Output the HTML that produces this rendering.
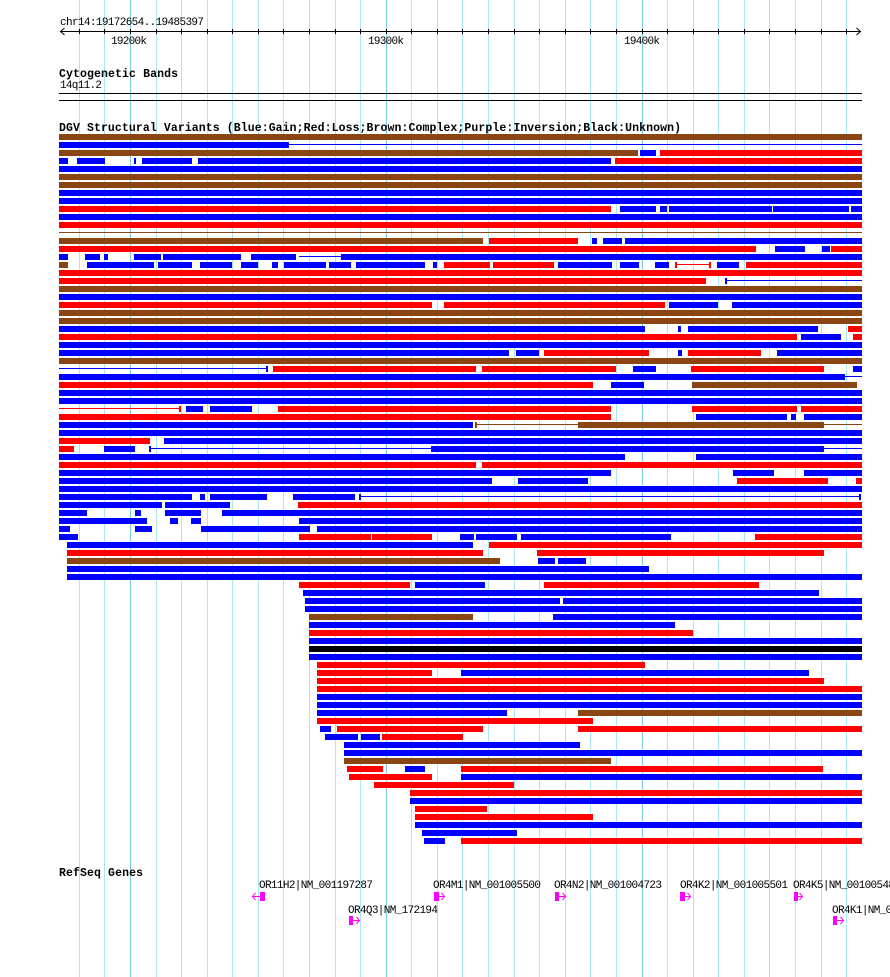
<!DOCTYPE html>
<html><head><meta charset="utf-8"><style>
html,body{margin:0;padding:0;background:#fff;width:890px;height:977px;overflow:hidden}
svg{display:block}
.b{fill:#0000ff}.r{fill:#ff0000}.n{fill:#8b4513}.k{fill:#000}.m{fill:#ff00ff}
.g{fill:#aae6ef}.G{fill:#7ccbe8}
text{font-family:"Liberation Mono","DejaVu Sans Mono",monospace;font-size:11px;fill:#000}
.t{font-weight:bold;font-size:11.5px}
</style></head><body>
<svg width="890" height="977" viewBox="0 0 890 977" shape-rendering="crispEdges">
<rect x="0" y="0" width="890" height="977" fill="#fff"/>
<g>
<rect class="g" x="79" y="0" width="1" height="977"/>
<rect class="g" x="104" y="0" width="1" height="977"/>
<rect class="G" x="130" y="0" width="1" height="977"/>
<rect class="g" x="156" y="0" width="1" height="977"/>
<rect class="g" x="181" y="0" width="1" height="977"/>
<rect class="g" x="207" y="0" width="1" height="977"/>
<rect class="g" x="232" y="0" width="1" height="977"/>
<rect class="g" x="258" y="0" width="1" height="977"/>
<rect class="g" x="283" y="0" width="1" height="977"/>
<rect class="g" x="309" y="0" width="1" height="977"/>
<rect class="g" x="335" y="0" width="1" height="977"/>
<rect class="g" x="360" y="0" width="1" height="977"/>
<rect class="G" x="386" y="0" width="1" height="977"/>
<rect class="g" x="411" y="0" width="1" height="977"/>
<rect class="g" x="437" y="0" width="1" height="977"/>
<rect class="g" x="462" y="0" width="1" height="977"/>
<rect class="g" x="488" y="0" width="1" height="977"/>
<rect class="g" x="514" y="0" width="1" height="977"/>
<rect class="g" x="539" y="0" width="1" height="977"/>
<rect class="g" x="565" y="0" width="1" height="977"/>
<rect class="g" x="590" y="0" width="1" height="977"/>
<rect class="g" x="616" y="0" width="1" height="977"/>
<rect class="G" x="642" y="0" width="1" height="977"/>
<rect class="g" x="667" y="0" width="1" height="977"/>
<rect class="g" x="693" y="0" width="1" height="977"/>
<rect class="g" x="718" y="0" width="1" height="977"/>
<rect class="g" x="744" y="0" width="1" height="977"/>
<rect class="g" x="769" y="0" width="1" height="977"/>
<rect class="g" x="795" y="0" width="1" height="977"/>
<rect class="g" x="821" y="0" width="1" height="977"/>
<rect class="g" x="846" y="0" width="1" height="977"/>
</g>
<text x="60" y="25" textLength="144">chr14:19172654..19485397</text>
<rect class="k" x="60" y="31" width="801" height="1"/>
<path d="M64.5 28 L60.5 31.5 L64.5 35 M856.5 28 L860.5 31.5 L856.5 35" stroke="#000" fill="none" shape-rendering="auto"/>
<g class="k">
<rect x="79" y="29" width="1" height="5"/><rect x="104" y="29" width="1" height="5"/><rect x="130" y="29" width="1" height="5"/><rect x="156" y="29" width="1" height="5"/><rect x="181" y="29" width="1" height="5"/><rect x="207" y="29" width="1" height="5"/><rect x="232" y="29" width="1" height="5"/><rect x="258" y="29" width="1" height="5"/><rect x="283" y="29" width="1" height="5"/><rect x="309" y="29" width="1" height="5"/><rect x="335" y="29" width="1" height="5"/><rect x="360" y="29" width="1" height="5"/><rect x="386" y="29" width="1" height="5"/><rect x="411" y="29" width="1" height="5"/><rect x="437" y="29" width="1" height="5"/><rect x="462" y="29" width="1" height="5"/><rect x="488" y="29" width="1" height="5"/><rect x="514" y="29" width="1" height="5"/><rect x="539" y="29" width="1" height="5"/><rect x="565" y="29" width="1" height="5"/><rect x="590" y="29" width="1" height="5"/><rect x="616" y="29" width="1" height="5"/><rect x="642" y="29" width="1" height="5"/><rect x="667" y="29" width="1" height="5"/><rect x="693" y="29" width="1" height="5"/><rect x="718" y="29" width="1" height="5"/><rect x="744" y="29" width="1" height="5"/><rect x="769" y="29" width="1" height="5"/><rect x="795" y="29" width="1" height="5"/><rect x="821" y="29" width="1" height="5"/><rect x="846" y="29" width="1" height="5"/>
</g>
<text x="111" y="44" textLength="36">19200k</text>
<text x="368" y="44" textLength="36">19300k</text>
<text x="624" y="44" textLength="36">19400k</text>
<text class="t" x="59" y="77" textLength="119">Cytogenetic Bands</text>
<text x="60" y="88" textLength="42">14q11.2</text>
<rect class="k" x="59" y="93" width="803" height="1"/>
<rect class="k" x="59" y="100" width="803" height="1"/>
<text class="t" x="59" y="131" textLength="622">DGV Structural Variants (Blue:Gain;Red:Loss;Brown:Complex;Purple:Inversion;Black:Unknown)</text>
<g>
<rect class="n" x="59" y="134" width="803" height="6"/>
<rect class="b" x="59" y="142" width="230" height="6"/><rect class="b" x="289" y="144" width="573" height="1"/>
<rect class="n" x="59" y="150" width="579" height="6"/><rect class="b" x="640" y="150" width="16" height="6"/><rect class="r" x="660" y="150" width="202" height="6"/>
<rect class="b" x="59" y="158" width="9" height="6"/><rect class="b" x="77" y="158" width="28" height="6"/><rect class="b" x="134" y="158" width="2" height="6"/><rect class="b" x="142" y="158" width="50" height="6"/><rect class="b" x="198" y="158" width="413" height="6"/><rect class="r" x="615" y="158" width="247" height="6"/>
<rect class="b" x="59" y="166" width="803" height="6"/>
<rect class="n" x="59" y="174" width="803" height="6"/>
<rect class="n" x="59" y="182" width="803" height="6"/>
<rect class="b" x="59" y="190" width="803" height="6"/>
<rect class="b" x="59" y="198" width="803" height="6"/>
<rect class="r" x="59" y="206" width="552" height="6"/><rect class="b" x="620" y="206" width="36" height="6"/><rect class="b" x="660" y="206" width="7" height="6"/><rect class="b" x="669" y="206" width="103" height="6"/><rect class="b" x="773" y="206" width="76" height="6"/><rect class="b" x="851" y="206" width="11" height="6"/>
<rect class="b" x="59" y="214" width="803" height="6"/>
<rect class="r" x="59" y="222" width="803" height="6"/>
<rect class="n" x="59" y="232" width="803" height="1"/>
<rect class="n" x="59" y="238" width="424" height="6"/><rect class="r" x="489" y="238" width="89" height="6"/><rect class="b" x="592" y="238" width="5" height="6"/><rect class="b" x="603" y="238" width="19" height="6"/><rect class="b" x="625" y="238" width="237" height="6"/>
<rect class="r" x="59" y="246" width="697" height="6"/><rect class="b" x="775" y="246" width="30" height="6"/><rect class="b" x="822" y="246" width="8" height="6"/><rect class="r" x="831" y="246" width="31" height="6"/>
<rect class="b" x="59" y="254" width="9" height="6"/><rect class="b" x="85" y="254" width="15" height="6"/><rect class="b" x="104" y="254" width="4" height="6"/><rect class="b" x="134" y="254" width="27" height="6"/><rect class="b" x="163" y="254" width="78" height="6"/><rect class="b" x="251" y="254" width="45" height="6"/><rect class="b" x="299" y="256" width="42" height="1"/><rect class="b" x="341" y="254" width="521" height="6"/>
<rect class="n" x="59" y="262" width="9" height="6"/><rect class="b" x="87" y="262" width="67" height="6"/><rect class="b" x="158" y="262" width="34" height="6"/><rect class="b" x="200" y="262" width="32" height="6"/><rect class="b" x="241" y="262" width="17" height="6"/><rect class="b" x="272" y="262" width="6" height="6"/><rect class="b" x="284" y="262" width="42" height="6"/><rect class="b" x="329" y="262" width="22" height="6"/><rect class="b" x="356" y="262" width="69" height="6"/><rect class="b" x="433" y="262" width="4" height="6"/><rect class="r" x="444" y="262" width="46" height="6"/><rect class="r" x="493" y="262" width="61" height="6"/><rect class="b" x="558" y="262" width="54" height="6"/><rect class="b" x="620" y="262" width="19" height="6"/><rect class="b" x="655" y="262" width="14" height="6"/><rect class="r" x="675" y="262" width="2" height="6"/><rect class="r" x="676" y="264" width="34" height="1"/><rect class="r" x="709" y="262" width="2" height="6"/><rect class="b" x="717" y="262" width="22" height="6"/><rect class="r" x="746" y="262" width="116" height="6"/>
<rect class="r" x="59" y="270" width="803" height="6"/>
<rect class="r" x="59" y="278" width="647" height="6"/><rect class="b" x="725" y="278" width="2" height="6"/><rect class="b" x="727" y="280" width="135" height="1"/>
<rect class="n" x="59" y="286" width="803" height="6"/>
<rect class="b" x="59" y="294" width="803" height="6"/>
<rect class="r" x="59" y="302" width="373" height="6"/><rect class="r" x="444" y="302" width="221" height="6"/><rect class="b" x="669" y="302" width="49" height="6"/><rect class="b" x="732" y="302" width="130" height="6"/>
<rect class="n" x="59" y="310" width="803" height="6"/>
<rect class="n" x="59" y="318" width="803" height="6"/>
<rect class="b" x="59" y="326" width="586" height="6"/><rect class="b" x="678" y="326" width="3" height="6"/><rect class="b" x="688" y="326" width="130" height="6"/><rect class="r" x="848" y="326" width="14" height="6"/>
<rect class="r" x="59" y="334" width="738" height="6"/><rect class="b" x="801" y="334" width="40" height="6"/><rect class="r" x="853" y="334" width="9" height="6"/>
<rect class="b" x="59" y="342" width="803" height="6"/>
<rect class="b" x="59" y="350" width="450" height="6"/><rect class="b" x="516" y="350" width="23" height="6"/><rect class="r" x="544" y="350" width="105" height="6"/><rect class="b" x="678" y="350" width="4" height="6"/><rect class="r" x="688" y="350" width="73" height="6"/><rect class="b" x="777" y="350" width="85" height="6"/>
<rect class="n" x="59" y="358" width="803" height="6"/>
<rect class="b" x="59" y="368" width="207" height="1"/><rect class="b" x="266" y="366" width="2" height="6"/><rect class="r" x="273" y="366" width="203" height="6"/><rect class="r" x="482" y="366" width="134" height="6"/><rect class="b" x="633" y="366" width="23" height="6"/><rect class="r" x="691" y="366" width="133" height="6"/><rect class="b" x="853" y="366" width="9" height="6"/>
<rect class="b" x="59" y="374" width="786" height="6"/><rect class="b" x="845" y="376" width="17" height="1"/>
<rect class="r" x="59" y="382" width="534" height="6"/><rect class="b" x="611" y="382" width="33" height="6"/><rect class="n" x="692" y="382" width="165" height="6"/>
<rect class="b" x="59" y="390" width="803" height="6"/>
<rect class="b" x="59" y="398" width="803" height="6"/>
<rect class="r" x="59" y="408" width="121" height="1"/><rect class="r" x="179" y="406" width="2" height="6"/><rect class="b" x="186" y="406" width="17" height="6"/><rect class="b" x="210" y="406" width="42" height="6"/><rect class="r" x="278" y="406" width="333" height="6"/><rect class="r" x="692" y="406" width="105" height="6"/><rect class="r" x="801" y="406" width="61" height="6"/>
<rect class="r" x="59" y="414" width="552" height="6"/><rect class="b" x="696" y="414" width="91" height="6"/><rect class="b" x="791" y="414" width="5" height="6"/><rect class="b" x="804" y="414" width="58" height="6"/>
<rect class="b" x="59" y="422" width="414" height="6"/><rect class="n" x="475" y="422" width="2" height="6"/><rect class="n" x="477" y="424" width="101" height="1"/><rect class="n" x="578" y="422" width="246" height="6"/><rect class="n" x="824" y="424" width="38" height="1"/>
<rect class="b" x="59" y="430" width="803" height="6"/>
<rect class="r" x="59" y="438" width="91" height="6"/><rect class="b" x="164" y="438" width="698" height="6"/>
<rect class="r" x="59" y="446" width="15" height="6"/><rect class="b" x="104" y="446" width="31" height="6"/><rect class="b" x="149" y="446" width="2" height="6"/><rect class="b" x="151" y="448" width="280" height="1"/><rect class="b" x="431" y="446" width="393" height="6"/><rect class="b" x="824" y="448" width="38" height="1"/>
<rect class="b" x="59" y="454" width="566" height="6"/><rect class="b" x="696" y="454" width="166" height="6"/>
<rect class="r" x="59" y="462" width="417" height="6"/><rect class="r" x="482" y="462" width="380" height="6"/>
<rect class="b" x="59" y="470" width="552" height="6"/><rect class="b" x="733" y="470" width="41" height="6"/><rect class="b" x="804" y="470" width="58" height="6"/>
<rect class="b" x="59" y="478" width="433" height="6"/><rect class="b" x="518" y="478" width="70" height="6"/><rect class="r" x="737" y="478" width="91" height="6"/><rect class="r" x="856" y="478" width="6" height="6"/>
<rect class="b" x="59" y="486" width="803" height="6"/>
<rect class="b" x="59" y="494" width="133" height="6"/><rect class="b" x="200" y="494" width="5" height="6"/><rect class="b" x="210" y="494" width="57" height="6"/><rect class="b" x="293" y="494" width="62" height="6"/><rect class="b" x="359" y="494" width="2" height="6"/><rect class="b" x="361" y="496" width="498" height="1"/><rect class="b" x="859" y="494" width="2" height="6"/>
<rect class="b" x="59" y="502" width="103" height="6"/><rect class="b" x="165" y="502" width="65" height="6"/><rect class="r" x="298" y="502" width="564" height="6"/>
<rect class="b" x="59" y="510" width="28" height="6"/><rect class="b" x="135" y="510" width="6" height="6"/><rect class="b" x="165" y="510" width="36" height="6"/><rect class="b" x="222" y="510" width="640" height="6"/>
<rect class="b" x="59" y="518" width="88" height="6"/><rect class="b" x="170" y="518" width="8" height="6"/><rect class="b" x="191" y="518" width="10" height="6"/><rect class="b" x="299" y="518" width="563" height="6"/>
<rect class="b" x="59" y="526" width="11" height="6"/><rect class="b" x="135" y="526" width="17" height="6"/><rect class="b" x="201" y="526" width="109" height="6"/><rect class="b" x="317" y="526" width="545" height="6"/>
<rect class="b" x="59" y="534" width="19" height="6"/><rect class="r" x="299" y="534" width="72" height="6"/><rect class="r" x="372" y="534" width="60" height="6"/><rect class="b" x="460" y="534" width="14" height="6"/><rect class="b" x="476" y="534" width="41" height="6"/><rect class="b" x="521" y="534" width="150" height="6"/><rect class="r" x="755" y="534" width="107" height="6"/>
<rect class="b" x="67" y="542" width="406" height="6"/><rect class="r" x="489" y="542" width="373" height="6"/>
<rect class="r" x="67" y="550" width="416" height="6"/><rect class="r" x="537" y="550" width="287" height="6"/>
<rect class="n" x="67" y="558" width="433" height="6"/><rect class="b" x="538" y="558" width="17" height="6"/><rect class="b" x="558" y="558" width="28" height="6"/>
<rect class="b" x="67" y="566" width="582" height="6"/>
<rect class="b" x="67" y="574" width="795" height="6"/>
<rect class="r" x="299" y="582" width="111" height="6"/><rect class="b" x="415" y="582" width="70" height="6"/><rect class="r" x="544" y="582" width="215" height="6"/>
<rect class="b" x="303" y="590" width="516" height="6"/>
<rect class="b" x="305" y="598" width="255" height="6"/><rect class="b" x="563" y="598" width="299" height="6"/>
<rect class="b" x="305" y="606" width="557" height="6"/>
<rect class="n" x="309" y="614" width="164" height="6"/><rect class="b" x="553" y="614" width="309" height="6"/>
<rect class="b" x="309" y="622" width="366" height="6"/>
<rect class="r" x="309" y="630" width="384" height="6"/>
<rect class="b" x="309" y="638" width="553" height="6"/>
<rect class="k" x="309" y="646" width="553" height="6"/>
<rect class="b" x="309" y="654" width="553" height="6"/>
<rect class="r" x="317" y="662" width="328" height="6"/>
<rect class="r" x="317" y="670" width="115" height="6"/><rect class="b" x="461" y="670" width="348" height="6"/>
<rect class="r" x="317" y="678" width="507" height="6"/>
<rect class="r" x="317" y="686" width="545" height="6"/>
<rect class="b" x="317" y="694" width="545" height="6"/>
<rect class="b" x="317" y="702" width="545" height="6"/>
<rect class="b" x="317" y="710" width="190" height="6"/><rect class="n" x="578" y="710" width="284" height="6"/>
<rect class="r" x="317" y="718" width="276" height="6"/>
<rect class="b" x="320" y="726" width="11" height="6"/><rect class="r" x="337" y="726" width="146" height="6"/><rect class="r" x="578" y="726" width="284" height="6"/>
<rect class="b" x="325" y="734" width="33" height="6"/><rect class="b" x="361" y="734" width="19" height="6"/><rect class="r" x="382" y="734" width="81" height="6"/>
<rect class="b" x="344" y="742" width="236" height="6"/>
<rect class="b" x="344" y="750" width="518" height="6"/>
<rect class="n" x="344" y="758" width="267" height="6"/>
<rect class="r" x="347" y="766" width="36" height="6"/><rect class="b" x="405" y="766" width="20" height="6"/><rect class="r" x="461" y="766" width="362" height="6"/>
<rect class="r" x="349" y="774" width="83" height="6"/><rect class="b" x="461" y="774" width="401" height="6"/>
<rect class="r" x="374" y="782" width="140" height="6"/>
<rect class="r" x="410" y="790" width="452" height="6"/>
<rect class="b" x="410" y="798" width="452" height="6"/>
<rect class="r" x="415" y="806" width="72" height="6"/>
<rect class="r" x="415" y="814" width="178" height="6"/>
<rect class="b" x="415" y="822" width="447" height="6"/>
<rect class="b" x="422" y="830" width="95" height="6"/>
<rect class="b" x="424" y="838" width="21" height="6"/><rect class="r" x="461" y="838" width="401" height="6"/>
</g>
<text class="t" x="59" y="876" textLength="84">RefSeq Genes</text>
<text x="259" y="888" textLength="114">OR11H2|NM_001197287</text>
<text x="433" y="888" textLength="108">OR4M1|NM_001005500</text>
<text x="554" y="888" textLength="108">OR4N2|NM_001004723</text>
<text x="680" y="888" textLength="108">OR4K2|NM_001005501</text>
<text x="793" y="888" textLength="108">OR4K5|NM_001005483</text>
<text x="348" y="913" textLength="90">OR4Q3|NM_172194</text>
<text x="832" y="913" textLength="108">OR4K1|NM_001004063</text>
<g>
<rect class="m" x="260" y="892" width="5" height="9"/>
<rect class="m" x="252" y="896" width="8" height="1"/>
<rect class="m" x="434" y="892" width="5" height="9"/>
<rect class="m" x="439" y="896" width="6" height="1"/>
<rect class="m" x="555" y="892" width="4" height="9"/>
<rect class="m" x="559" y="896" width="7" height="1"/>
<rect class="m" x="680" y="892" width="5" height="9"/>
<rect class="m" x="685" y="896" width="6" height="1"/>
<rect class="m" x="794" y="892" width="4" height="9"/>
<rect class="m" x="798" y="896" width="5" height="1"/>
<rect class="m" x="349" y="916" width="4" height="9"/>
<rect class="m" x="353" y="920" width="7" height="1"/>
<rect class="m" x="833" y="916" width="4" height="9"/>
<rect class="m" x="837" y="920" width="7" height="1"/>
</g>
<path shape-rendering="auto" fill="none" stroke="#ff00ff" stroke-width="1"
d="M255.5 893 L252.5 896.5 L255.5 900 M441.5 893 L444.5 896.5 L441.5 900 M562.5 893 L565.5 896.5 L562.5 900 M687.5 893 L690.5 896.5 L687.5 900 M799.5 893 L802.5 896.5 L799.5 900 M356.5 917 L359.5 920.5 L356.5 924 M840.5 917 L843.5 920.5 L840.5 924"/>
</svg>
</body></html>
